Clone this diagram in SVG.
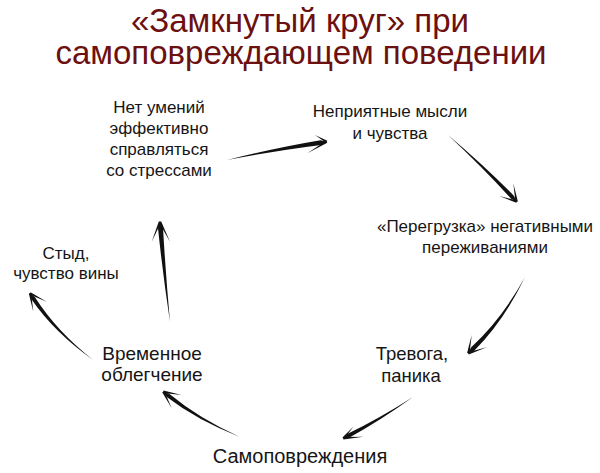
<svg xmlns="http://www.w3.org/2000/svg" width="600" height="473" viewBox="0 0 600 473">
<style>
.title{font-family:"Liberation Sans",Arial,sans-serif;font-size:33px;fill:#6c1010;text-anchor:middle}
.lbl{font-family:"Liberation Sans",Arial,sans-serif;font-size:17px;fill:#151515;text-anchor:middle}
.big{font-size:18.5px}
.b19{font-size:19px}
.b20{font-size:20px}
.arr{fill:#111;stroke:none}
</style>
<rect width="600" height="473" fill="#fff"/>
<g id="title">
<text class="title" x="300" y="32">«Замкнутый круг» при</text>
<text class="title" x="301" y="64">самоповреждающем поведении</text>
</g>
<g id="n1"><text class="lbl" x="159" y="113">Нет умений</text><text class="lbl" x="159" y="134">эффективно</text><text class="lbl" x="159" y="155">справляться</text><text class="lbl" x="159" y="176">со стрессами</text></g>
<g id="n2"><text class="lbl" x="390" y="117">Неприятные мысли</text><text class="lbl" x="390" y="139">и чувства</text></g>
<g id="n3"><text class="lbl" x="485" y="232">«Перегрузка» негативными</text><text class="lbl" x="485" y="253">переживаниями</text></g>
<g id="n4"><text class="lbl big" x="412" y="360">Тревога,</text><text class="lbl big" x="411" y="382">паника</text></g>
<g id="n5"><text class="lbl b20" x="300" y="463">Самоповреждения</text></g>
<g id="n6"><text class="lbl b19" x="152" y="360">Временное</text><text class="lbl b19" x="152" y="381">облегчение</text></g>
<g id="n7"><text class="lbl" x="66" y="259">Стыд,</text><text class="lbl" x="66" y="279">чувство вины</text></g>
<g id="connectors" class="arr">
<path d="M227,160 Q277.2,150.4 321.1,144.9 L326.7,141.7 L320.5,140.3 Q276.8,147.6 227,160 Z"/>
<polygon points="327.3,140.7 315,135 326.1,142.7"/><polygon points="327.3,142.7 307.3,153.3 326.1,140.7"/>
<path d="M448,135 Q483.1,167.8 511.1,198.7 L516.7,201.7 L514.0,195.9 Q484.9,166.2 448,135 Z"/>
<polygon points="517.1,200.6 499.3,196 516.3,202.8"/><polygon points="517.9,201.5 513.3,183.3 515.5,201.9"/>
<path d="M525,277 Q504,321 474.2,350.8 L468.3,353.3 L471.0,347.4 Q502,319 525,277 Z"/>
<polygon points="469.5,353.5 471.7,335 467.1,353.1"/><polygon points="468.7,354.4 486.7,347.3 467.9,352.2"/>
<path d="M413,397 Q379.5,421.1 349.5,437.4 L343.3,438.3 L347.7,433.8 Q378.5,418.9 413,397 Z"/>
<polygon points="344.2,439.1 353.3,426.7 342.4,437.5"/><polygon points="343.4,439.5 363.3,436.7 343.2,437.1"/>
<path d="M240,437 Q197.8,420.6 166.8,397.0 L163.3,391.7 L169.2,393.8 Q199.3,418.8 240,437 Z"/>
<polygon points="163.1,392.9 181.7,395 163.5,390.5"/><polygon points="162.2,392.2 171.7,408.3 164.4,391.2"/>
<path d="M170,322 Q165.5,271.9 163,227.5 L160,221.7 L158,227.9 Q162.5,272.1 170,322 Z"/>
<polygon points="161.1,222.2 151.7,241.7 158.9,221.2"/><polygon points="161.1,221.2 170,241.7 158.9,222.2"/>
<path d="M93.3,360 Q56.7,331.3 35,297.2 L30,293.3 L31.6,299.4 Q54.7,332.7 93.3,360 Z"/>
<polygon points="29.5,294.4 46.7,301.7 30.5,292.2"/><polygon points="28.8,293.5 33.3,311.7 31.2,293.1"/>
</g>
</svg>
